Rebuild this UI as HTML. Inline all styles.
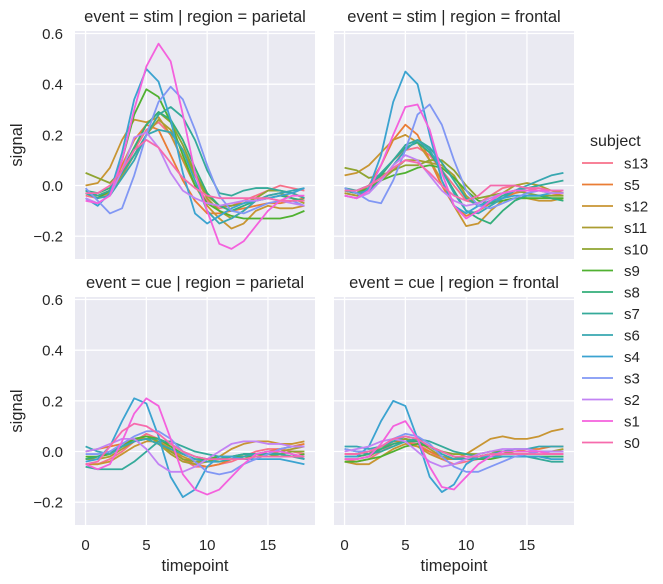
<!DOCTYPE html>
<html><head><meta charset="utf-8"><style>
body{margin:0;background:#fff}
svg{display:block;font-family:"Liberation Sans","DejaVu Sans",sans-serif}
</style></head><body>
<svg id="c" width="663" height="584" viewBox="0 0 663 584"></svg>
<script>
const subjects=["s13","s5","s12","s11","s10","s9","s8","s7","s6","s4","s3","s2","s1","s0"];
const colors=["#f77189","#ea7d35","#c89532","#ab9d31","#8fa431","#50b131","#33ae7a","#35aa9a","#37a7b1","#3ba3d0","#8197f4","#c283f4","#f461dd","#f66bad"];
const timepoints=[0,1,2,3,4,5,6,7,8,9,10,11,12,13,14,15,16,17,18];
const xTicks=[0,5,10,15];
const yTicks=[-0.2,0.0,0.2,0.4,0.6];
const yTickLabels=["\u22120.2","0.0","0.2","0.4","0.6"];
const panelTitles=["event = stim | region = parietal","event = stim | region = frontal","event = cue | region = parietal","event = cue | region = frontal"];
const stimParietal=[
[-0.04,-0.05,-0.03,0.05,0.14,0.22,0.25,0.2,0.1,0.0,-0.06,-0.09,-0.08,-0.06,-0.04,-0.02,0.0,-0.01,-0.02],
[-0.03,-0.04,-0.02,0.08,0.18,0.24,0.22,0.12,0.02,-0.06,-0.11,-0.11,-0.1,-0.09,-0.08,-0.07,-0.07,-0.06,-0.05],
[0.0,0.01,0.07,0.18,0.26,0.25,0.27,0.2,0.1,0.0,-0.08,-0.13,-0.17,-0.15,-0.1,-0.08,-0.09,-0.09,-0.08],
[-0.02,-0.04,-0.03,0.04,0.12,0.2,0.26,0.22,0.14,0.04,-0.05,-0.1,-0.13,-0.1,-0.06,-0.04,-0.03,-0.05,-0.07],
[0.05,0.03,0.01,0.06,0.15,0.24,0.29,0.25,0.16,0.05,-0.04,-0.08,-0.08,-0.07,-0.05,-0.02,-0.02,-0.03,-0.05],
[-0.03,-0.05,-0.02,0.1,0.28,0.38,0.35,0.25,0.12,0.0,-0.07,-0.1,-0.12,-0.13,-0.13,-0.13,-0.13,-0.12,-0.1],
[-0.02,-0.03,-0.01,0.06,0.15,0.24,0.29,0.26,0.18,0.07,-0.03,-0.08,-0.1,-0.08,-0.06,-0.05,-0.04,-0.05,-0.06],
[-0.02,-0.04,-0.02,0.05,0.12,0.2,0.28,0.31,0.27,0.18,0.06,-0.03,-0.04,-0.02,-0.01,-0.01,-0.02,-0.03,-0.05],
[-0.03,-0.05,-0.04,0.03,0.1,0.2,0.22,0.21,0.14,0.02,-0.1,-0.15,-0.13,-0.1,-0.06,-0.04,-0.03,-0.02,-0.01],
[-0.05,-0.08,-0.03,0.13,0.34,0.46,0.41,0.26,0.05,-0.11,-0.15,-0.12,-0.09,-0.07,-0.06,-0.05,-0.04,-0.03,-0.01],
[-0.01,-0.06,-0.11,-0.09,0.04,0.2,0.33,0.39,0.34,0.22,0.08,-0.04,-0.1,-0.11,-0.09,-0.07,-0.06,-0.06,-0.08],
[-0.05,-0.07,-0.04,0.06,0.19,0.21,0.15,0.05,-0.02,-0.05,-0.07,-0.08,-0.07,-0.06,-0.06,-0.05,-0.06,-0.07,-0.08],
[-0.06,-0.07,-0.04,0.1,0.3,0.47,0.56,0.49,0.28,0.05,-0.1,-0.23,-0.25,-0.22,-0.16,-0.1,-0.06,-0.04,-0.04],
[-0.03,-0.03,0.0,0.06,0.14,0.18,0.15,0.09,0.03,-0.01,-0.04,-0.05,-0.05,-0.05,-0.05,-0.05,-0.06,-0.06,-0.06]];
const stimFrontal=[
[-0.03,-0.04,-0.02,0.04,0.1,0.14,0.15,0.12,0.06,0.0,-0.06,-0.07,-0.04,-0.01,0.0,-0.01,-0.02,-0.02,-0.03],
[-0.02,-0.03,0.0,0.08,0.18,0.24,0.2,0.1,0.0,-0.08,-0.12,-0.1,-0.07,-0.05,-0.03,-0.02,-0.02,-0.03,-0.04],
[0.04,0.05,0.08,0.13,0.18,0.2,0.17,0.1,0.02,-0.08,-0.16,-0.15,-0.1,-0.06,-0.05,-0.05,-0.06,-0.06,-0.05],
[-0.03,-0.04,-0.02,0.02,0.06,0.1,0.1,0.09,0.08,0.04,-0.04,-0.08,-0.06,-0.03,0.0,0.01,0.0,-0.02,-0.03],
[0.07,0.06,0.03,0.04,0.06,0.08,0.08,0.1,0.1,0.06,0.0,-0.05,-0.04,-0.03,-0.02,-0.03,-0.04,-0.04,-0.04],
[-0.02,-0.03,-0.01,0.02,0.04,0.05,0.07,0.08,0.07,0.03,-0.02,-0.06,-0.07,-0.06,-0.05,-0.05,-0.05,-0.05,-0.05],
[-0.02,-0.02,0.0,0.04,0.1,0.15,0.17,0.13,0.06,-0.02,-0.1,-0.13,-0.15,-0.1,-0.06,-0.04,-0.04,-0.05,-0.06],
[-0.01,-0.02,0.0,0.05,0.1,0.16,0.18,0.15,0.09,0.02,-0.05,-0.08,-0.07,-0.04,-0.02,-0.01,0.0,0.01,0.02],
[-0.02,-0.03,-0.02,0.02,0.08,0.14,0.18,0.14,0.06,-0.03,-0.1,-0.11,-0.08,-0.05,-0.02,0.0,0.02,0.04,0.05],
[-0.04,-0.05,-0.01,0.12,0.33,0.45,0.4,0.2,0.02,-0.08,-0.11,-0.08,-0.06,-0.05,-0.04,-0.04,-0.04,-0.03,-0.03],
[-0.01,-0.03,-0.06,-0.07,0.02,0.14,0.28,0.32,0.24,0.1,-0.02,-0.08,-0.09,-0.07,-0.05,-0.03,-0.02,-0.02,-0.02],
[-0.04,-0.05,-0.03,0.02,0.08,0.12,0.1,0.04,-0.02,-0.06,-0.08,-0.07,-0.05,-0.03,-0.02,-0.02,-0.02,-0.03,-0.03],
[-0.04,-0.05,-0.02,0.08,0.2,0.31,0.32,0.22,0.05,-0.08,-0.13,-0.1,-0.06,-0.03,-0.02,-0.02,-0.02,-0.02,-0.02],
[-0.02,-0.02,0.0,0.03,0.07,0.1,0.09,0.05,0.0,-0.04,-0.06,-0.04,0.0,0.0,0.0,-0.01,-0.01,-0.02,-0.02]];
const cueParietal=[
[-0.05,-0.05,-0.03,0.0,0.04,0.07,0.05,0.01,-0.03,-0.06,-0.06,-0.05,-0.04,-0.02,0.0,0.01,0.01,0.0,-0.01],
[0.0,0.01,0.02,0.03,0.05,0.05,0.03,0.0,-0.03,-0.05,-0.06,-0.05,-0.03,-0.02,-0.01,0.0,0.01,0.02,0.03],
[-0.05,-0.05,-0.04,-0.01,0.02,0.04,0.04,0.01,-0.02,-0.04,-0.04,-0.02,0.01,0.03,0.04,0.04,0.03,0.03,0.04],
[-0.03,-0.03,-0.02,0.01,0.04,0.05,0.03,-0.01,-0.04,-0.05,-0.04,-0.03,-0.02,-0.02,-0.02,-0.01,0.0,0.01,0.02],
[-0.03,-0.02,-0.01,0.02,0.05,0.06,0.04,0.0,-0.03,-0.04,-0.04,-0.03,-0.03,-0.03,-0.02,-0.02,-0.01,0.0,0.0],
[-0.02,-0.02,-0.01,0.02,0.05,0.06,0.05,0.02,-0.01,-0.03,-0.03,-0.02,-0.02,-0.02,-0.02,-0.02,-0.02,-0.02,-0.01],
[-0.03,-0.02,0.0,0.02,0.04,0.05,0.05,0.03,0.0,-0.02,-0.03,-0.03,-0.02,-0.01,-0.01,-0.01,-0.01,-0.02,-0.02],
[-0.06,-0.07,-0.07,-0.07,-0.04,0.0,0.04,0.04,0.02,0.0,-0.01,-0.02,-0.02,-0.01,-0.01,-0.01,-0.01,-0.02,-0.03],
[0.02,0.0,-0.01,0.02,0.04,0.05,0.03,0.01,-0.01,-0.03,-0.04,-0.04,-0.03,-0.02,-0.01,0.0,0.0,-0.01,-0.03],
[-0.04,-0.03,0.02,0.12,0.21,0.19,0.06,-0.1,-0.18,-0.15,-0.06,-0.02,-0.02,-0.03,-0.03,-0.03,-0.03,-0.04,-0.05],
[-0.01,-0.01,0.0,0.03,0.06,0.08,0.08,0.05,0.0,-0.04,-0.08,-0.09,-0.08,-0.05,-0.03,-0.01,0.01,0.02,0.02],
[0.0,0.01,0.03,0.05,0.05,0.01,-0.05,-0.08,-0.08,-0.06,-0.03,0.0,0.03,0.04,0.04,0.03,0.03,0.02,0.02],
[-0.05,-0.07,-0.05,0.04,0.15,0.21,0.18,0.05,-0.09,-0.15,-0.17,-0.15,-0.1,-0.05,-0.01,0.0,0.0,-0.01,-0.02],
[-0.05,-0.04,0.02,0.08,0.11,0.1,0.07,0.03,0.0,-0.02,-0.03,-0.03,-0.03,-0.03,-0.02,-0.02,-0.02,-0.02,-0.02]];
const cueFrontal=[
[-0.03,-0.04,-0.03,0.0,0.03,0.04,0.03,0.0,-0.03,-0.05,-0.04,-0.03,-0.02,-0.01,0.0,0.0,0.0,-0.01,-0.01],
[-0.01,-0.01,0.0,0.02,0.04,0.04,0.02,0.0,-0.02,-0.03,-0.03,-0.02,-0.01,0.0,0.0,0.01,0.01,0.02,0.02],
[-0.04,-0.05,-0.05,-0.02,0.01,0.03,0.02,-0.01,-0.03,-0.03,-0.01,0.02,0.05,0.06,0.05,0.05,0.06,0.08,0.09],
[-0.02,-0.02,-0.01,0.02,0.04,0.05,0.04,0.01,-0.02,-0.03,-0.03,-0.02,-0.01,0.0,0.0,0.0,0.0,0.0,0.01],
[-0.03,-0.03,-0.02,0.01,0.04,0.05,0.04,0.02,0.0,-0.01,-0.01,-0.01,0.0,0.0,-0.01,-0.01,0.0,0.0,0.0],
[-0.04,-0.04,-0.03,-0.02,0.0,0.02,0.03,0.02,0.0,-0.02,-0.03,-0.03,-0.03,-0.02,-0.02,-0.02,-0.02,-0.02,-0.02],
[-0.02,-0.02,-0.01,0.01,0.03,0.04,0.04,0.02,0.0,-0.02,-0.03,-0.03,-0.02,-0.02,-0.02,-0.02,-0.02,-0.02,-0.02],
[0.01,0.0,-0.01,0.0,0.02,0.04,0.05,0.04,0.02,0.0,-0.01,-0.02,-0.02,-0.02,-0.02,-0.02,-0.03,-0.04,-0.04],
[0.02,0.02,0.01,0.02,0.04,0.06,0.05,0.02,-0.01,-0.03,-0.03,-0.02,-0.01,0.0,0.01,0.01,0.02,0.02,0.02],
[-0.02,-0.02,0.02,0.12,0.2,0.18,0.05,-0.1,-0.16,-0.13,-0.05,-0.02,-0.02,-0.02,-0.02,-0.02,-0.02,-0.03,-0.03],
[0.01,0.0,0.0,0.02,0.05,0.07,0.06,0.03,-0.02,-0.06,-0.08,-0.08,-0.06,-0.04,-0.02,-0.01,0.0,0.0,0.0],
[0.0,0.01,0.02,0.04,0.05,0.04,0.0,-0.04,-0.06,-0.05,-0.03,-0.01,0.0,0.01,0.01,0.01,0.0,0.0,0.0],
[-0.03,-0.03,-0.02,0.03,0.1,0.12,0.05,-0.06,-0.14,-0.15,-0.1,-0.05,-0.02,0.0,0.0,0.0,0.0,-0.01,-0.01],
[-0.01,-0.01,0.0,0.02,0.05,0.06,0.05,0.02,0.0,-0.02,-0.02,-0.02,-0.01,-0.01,-0.01,-0.01,-0.01,-0.01,-0.01]];

const svg=document.getElementById('c');
const NS='http://www.w3.org/2000/svg';
function mk(tag,attrs,parent){const e=document.createElementNS(NS,tag);for(const k in attrs)e.setAttribute(k,attrs[k]);(parent||svg).appendChild(e);return e;}
const panels=[
 {data:stimParietal,x0:75,y0:31,name:'panel-stim-parietal',row:0,col:0},
 {data:stimFrontal,x0:334,y0:31,name:'panel-stim-frontal',row:0,col:1},
 {data:cueParietal,x0:75,y0:297,name:'panel-cue-parietal',row:1,col:0},
 {data:cueFrontal,x0:334,y0:297,name:'panel-cue-frontal',row:1,col:1}];
const W=240,H=228,xMin=-0.87,xMax=18.87,yMin=-0.29,yMax=0.61;
panels.forEach((p,pi)=>{
 const g=mk('g',{});
 
 
 const xs=v=>p.x0+(v-xMin)/(xMax-xMin)*W;
 const ys=v=>p.y0+(yMax-v)/(yMax-yMin)*H;
 const bg=mk('rect',{x:p.x0,y:p.y0,width:W,height:H,fill:'#eaeaf2'},g);
 
 
 xTicks.forEach(t=>{mk('line',{x1:xs(t),x2:xs(t),y1:p.y0,y2:p.y0+H,stroke:'#fff','stroke-width':1.3},g);});
 yTicks.forEach(t=>{mk('line',{x1:p.x0,x2:p.x0+W,y1:ys(t),y2:ys(t),stroke:'#fff','stroke-width':1.3},g);});
 const tt=mk('text',{x:p.x0+W/2,y:p.y0-9,'text-anchor':'middle','font-size':16.5,fill:'#262626'},g);
 tt.textContent=panelTitles[pi];
 
 
 if(p.col===0){
  yTicks.forEach((t,i)=>{const tx=mk('text',{x:p.x0-12,y:ys(t)+5.5,'text-anchor':'end','font-size':15,fill:'#262626'},g);tx.textContent=yTickLabels[i];
   
   });
  const yl=mk('text',{x:0,y:0,transform:`translate(22,${p.y0+H/2}) rotate(-90)`,'text-anchor':'middle','font-size':16.5,fill:'#262626'},g);
  yl.textContent='signal';
  
  
 }
 if(p.row===1){
  xTicks.forEach(t=>{const tx=mk('text',{x:xs(t),y:p.y0+H+25,'text-anchor':'middle','font-size':15,fill:'#262626'},g);tx.textContent=String(t);
   
   });
  const xl=mk('text',{x:p.x0+W/2,y:p.y0+H+46,'text-anchor':'middle','font-size':16.5,fill:'#262626'},g);
  xl.textContent='timepoint';
  
  
 }
 p.data.forEach((series,si)=>{
  const d=series.map((v,i)=>(i?'L':'M')+xs(timepoints[i]).toFixed(2)+','+ys(v).toFixed(2)).join('');
  const path=mk('path',{d:d,fill:'none',stroke:colors[si],'stroke-width':1.8,'stroke-linejoin':'round'},g);
  
  
 });
});
const lg=mk('g',{});


const lt=mk('text',{x:590,y:146,'font-size':16,fill:'#262626'},lg);
lt.textContent='subject';


subjects.forEach((s,i)=>{
 const y=163+i*21.5;
 const e=mk('g',{},lg);
 
 
 mk('line',{x1:582,x2:613,y1:y,y2:y,stroke:colors[i],'stroke-width':1.8},e);
 const t=mk('text',{x:624,y:y+5.5,'font-size':15,fill:'#262626'},e);
 t.textContent=s;
});
</script>
</body></html>
